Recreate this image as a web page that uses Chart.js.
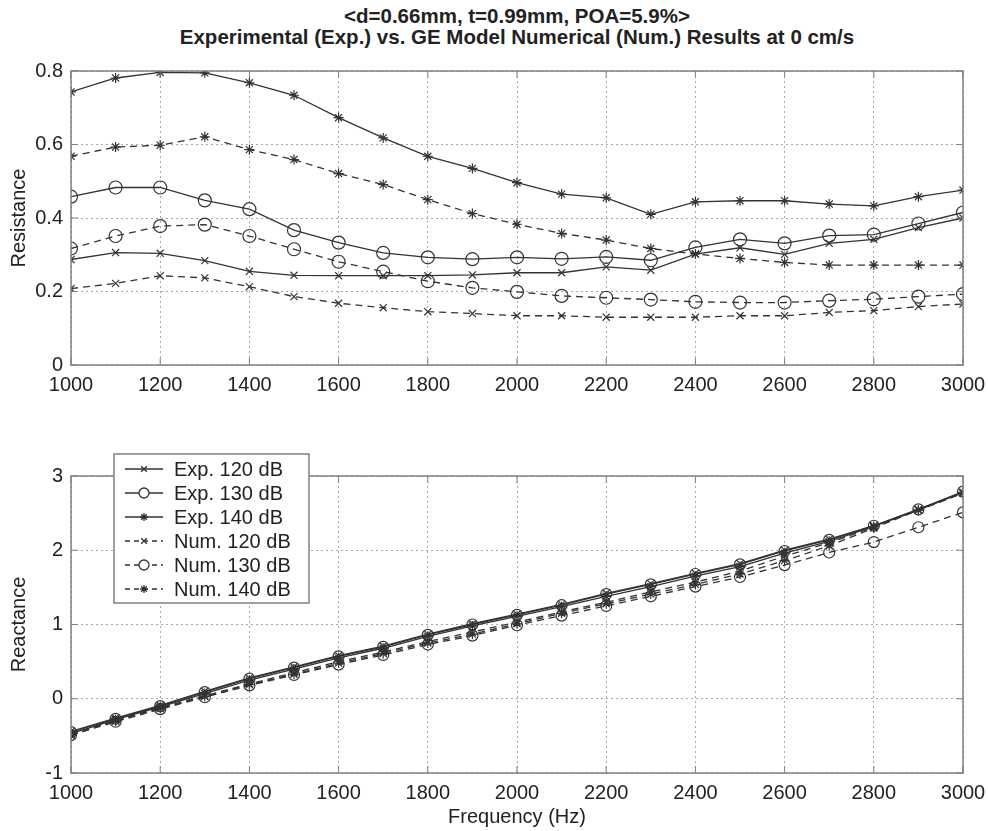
<!DOCTYPE html>
<html>
<head>
<meta charset="utf-8">
<script src="https://cdn.jsdelivr.net/npm/chart.js@4.4.1/dist/chart.umd.min.js"></script>
<style>
  body { margin: 0; background: #fff; }
  #wrap { position: relative; width: 988px; height: 831px; background: #fff; font-family: "Liberation Sans", Arial, sans-serif; }
  #wrap canvas { position: absolute; left: 0; }
  .title { position: absolute; left: 71px; width: 892px; text-align: center; font-weight: bold; font-size: 20.5px; color: #222; line-height: 22px; }
</style>
</head>
<body>
<div id="wrap">
  <div class="title" style="top:5px">&lt;d=0.66mm, t=0.99mm, POA=5.9%&gt;</div>
  <div class="title" style="top:26px">Experimental (Exp.) vs. GE Model Numerical (Num.) Results at 0 cm/s</div>
  <canvas id="resChart" width="988" height="400" style="top:0"></canvas>
  <canvas id="reaChart" width="988" height="411" style="top:420px"></canvas>
</div>
<script>
// Frequencies (Hz) shared by both panels.
const freqs = [1000, 1100, 1200, 1300, 1400, 1500, 1600, 1700, 1800, 1900, 2000,
               2100, 2200, 2300, 2400, 2500, 2600, 2700, 2800, 2900, 3000];

const seriesLabels = ["Exp. 120 dB", "Exp. 130 dB", "Exp. 140 dB",
                      "Num. 120 dB", "Num. 130 dB", "Num. 140 dB"];

// Resistance.
const resExp120 = [0.287, 0.306, 0.304, 0.284, 0.255, 0.244, 0.243, 0.243, 0.243, 0.245, 0.251,
                   0.251, 0.267, 0.258, 0.302, 0.319, 0.301, 0.331, 0.342, 0.374, 0.400];
const resExp130 = [0.458, 0.483, 0.483, 0.448, 0.424, 0.367, 0.333, 0.305, 0.293, 0.288, 0.293,
                   0.289, 0.294, 0.285, 0.320, 0.342, 0.331, 0.352, 0.355, 0.385, 0.415];
const resExp140 = [0.743, 0.781, 0.796, 0.795, 0.768, 0.734, 0.673, 0.618, 0.568, 0.535, 0.496,
                   0.465, 0.455, 0.410, 0.444, 0.447, 0.447, 0.438, 0.433, 0.458, 0.476];
const resNum120 = [0.208, 0.222, 0.243, 0.237, 0.213, 0.186, 0.168, 0.156, 0.145, 0.140, 0.134,
                   0.134, 0.130, 0.130, 0.130, 0.134, 0.134, 0.143, 0.148, 0.159, 0.166];
const resNum130 = [0.317, 0.351, 0.378, 0.382, 0.351, 0.315, 0.281, 0.254, 0.228, 0.210, 0.199,
                   0.188, 0.183, 0.178, 0.172, 0.170, 0.170, 0.175, 0.179, 0.186, 0.193];
const resNum140 = [0.568, 0.593, 0.598, 0.621, 0.586, 0.559, 0.521, 0.491, 0.450, 0.412, 0.383,
                   0.358, 0.340, 0.317, 0.302, 0.290, 0.279, 0.272, 0.272, 0.272, 0.272];

// Reactance.
const reaExp120 = [-0.44, -0.26, -0.09, 0.10, 0.28, 0.43, 0.58, 0.71, 0.87, 1.01, 1.14,
                   1.27, 1.42, 1.55, 1.69, 1.82, 2.00, 2.15, 2.33, 2.55, 2.78];
const reaExp130 = [-0.45, -0.27, -0.10, 0.09, 0.27, 0.42, 0.57, 0.70, 0.86, 1.00, 1.13,
                   1.26, 1.41, 1.54, 1.68, 1.81, 1.99, 2.14, 2.33, 2.55, 2.79];
const reaExp140 = [-0.47, -0.28, -0.11, 0.07, 0.25, 0.40, 0.55, 0.68, 0.84, 0.98, 1.11,
                   1.24, 1.38, 1.51, 1.65, 1.78, 1.96, 2.12, 2.32, 2.54, 2.78];
const reaNum120 = [-0.48, -0.29, -0.12, 0.04, 0.20, 0.35, 0.50, 0.63, 0.77, 0.90, 1.03,
                   1.17, 1.30, 1.44, 1.57, 1.72, 1.92, 2.10, 2.31, 2.54, 2.77];
const reaNum130 = [-0.49, -0.31, -0.14, 0.02, 0.18, 0.32, 0.46, 0.59, 0.73, 0.85, 0.99,
                   1.12, 1.25, 1.38, 1.51, 1.64, 1.80, 1.97, 2.11, 2.31, 2.51];
const reaNum140 = [-0.49, -0.30, -0.13, 0.03, 0.19, 0.33, 0.48, 0.61, 0.75, 0.87, 1.01,
                   1.15, 1.28, 1.41, 1.54, 1.68, 1.86, 2.06, 2.30, 2.54, 2.77];

const freqTicks = [1000, 1200, 1400, 1600, 1800, 2000, 2200, 2400, 2600, 2800, 3000];
const resTicks = [0, 0.2, 0.4, 0.6, 0.8];
const reaTicks = [-1, 0, 1, 2, 3];

const lineColor = '#333';
const axisColor = '#808080';
const gridColor = '#a8a8a8';
const fontName = '"Liberation Sans", Arial, sans-serif';
const markers = ['crossRot', 'circle', 'star', 'crossRot', 'circle', 'star'];

function toPoints(values) {
    return values.map((v, i) => ({ x: freqs[i], y: v }));
}

function buildDatasets(seriesList, circleRadius) {
    return seriesList.map((values, i) => ({
        label: seriesLabels[i],
        data: toPoints(values),
        borderColor: lineColor,
        borderWidth: 1.3,
        borderDash: i >= 3 ? [7, 5] : [],
        pointStyle: markers[i],
        pointRadius: markers[i] == 'circle' ? circleRadius : 5,
        pointBorderColor: lineColor,
        pointBorderWidth: 1.2,
        pointBackgroundColor: 'rgba(0,0,0,0)',
        tension: 0,
        fill: false
    }));
}

// MATLAB style box around the axes, with tick marks pointing inwards.
const boxPlugin = {
    id: 'box',
    afterDraw(chart) {
        const { ctx, chartArea: a, scales } = chart;
        ctx.save();
        ctx.strokeStyle = axisColor;
        ctx.lineWidth = 1.5;
        ctx.setLineDash([]);
        ctx.strokeRect(a.left, a.top, a.right - a.left, a.bottom - a.top);
        ctx.lineWidth = 1;
        ctx.beginPath();
        for (const t of scales.x.ticks) {
            const px = scales.x.getPixelForValue(t.value);
            ctx.moveTo(px, a.bottom); ctx.lineTo(px, a.bottom - 7);
            ctx.moveTo(px, a.top); ctx.lineTo(px, a.top + 7);
        }
        for (const t of scales.y.ticks) {
            const py = scales.y.getPixelForValue(t.value);
            ctx.moveTo(a.left, py); ctx.lineTo(a.left + 7, py);
            ctx.moveTo(a.right, py); ctx.lineTo(a.right - 7, py);
        }
        ctx.stroke();
        ctx.restore();
    }
};

// Legend drawn like the MATLAB one: line sample with its marker, then the text.
const legendPlugin = {
    id: 'matLegend',
    afterDraw(chart, args, opts) {
        if (!opts.show) return;
        const ctx = chart.ctx;
        const x0 = 114, y0 = 34, w = 195, h = 149, rowH = 24;
        ctx.save();
        ctx.fillStyle = '#fff';
        ctx.fillRect(x0, y0, w, h);
        ctx.strokeStyle = axisColor;
        ctx.lineWidth = 1.5;
        ctx.strokeRect(x0, y0, w, h);
        ctx.font = '20px ' + fontName;
        ctx.textBaseline = 'middle';
        chart.data.datasets.forEach((ds, i) => {
            const y = y0 + 15 + i * rowH;
            ctx.strokeStyle = ds.borderColor;
            ctx.lineWidth = ds.borderWidth;
            ctx.setLineDash(ds.borderDash.length ? [5, 4] : []);
            ctx.beginPath();
            ctx.moveTo(x0 + 11, y);
            ctx.lineTo(x0 + 49, y);
            ctx.stroke();
            ctx.setLineDash([]);
            ctx.fillStyle = '#fff';
            Chart.helpers.drawPoint(ctx, {
                pointStyle: ds.pointStyle,
                radius: ds.pointStyle == 'circle' ? 5 : 4,
                borderWidth: ds.pointBorderWidth,
                rotation: 0
            }, x0 + 30, y);
            ctx.fillStyle = '#222';
            ctx.fillText(ds.label, x0 + 60, y + 1);
        });
        ctx.restore();
    }
};

function xScale(height, withTitle) {
    return {
        type: 'linear',
        min: 1000,
        max: 3000,
        afterBuildTicks: (s) => { s.ticks = freqTicks.map(v => ({ value: v })); },
        afterFit: (s) => {
            s.height = height;
            // let the end labels hang over the layout padding
            s.paddingLeft = 0;
            s.paddingRight = 0;
        },
        ticks: {
            color: '#222', font: { family: fontName, size: 20 }, padding: 8, maxRotation: 0,
            callback: (v) => String(v)
        },
        grid: { color: gridColor, lineWidth: 1, drawTicks: false },
        border: { display: false, dash: [2, 3] },
        title: {
            display: withTitle,
            text: 'Frequency (Hz)',
            color: '#222',
            font: { family: fontName, size: 20 },
            padding: { top: 0, bottom: 2 }
        }
    };
}

function yScale(min, max, tickValues, title) {
    return {
        type: 'linear',
        min: min,
        max: max,
        afterBuildTicks: (s) => { s.ticks = tickValues.map(v => ({ value: v })); },
        afterFit: (s) => { s.width = 71; },
        ticks: {
            color: '#222', font: { family: fontName, size: 20 }, padding: 8,
            callback: (v) => String(v)
        },
        grid: { color: gridColor, lineWidth: 1, drawTicks: false },
        border: { display: false, dash: [2, 3] },
        title: {
            display: true,
            text: title,
            color: '#222',
            font: { family: fontName, size: 20 },
            padding: { top: 7, bottom: 0 }
        }
    };
}

function makeChart(canvasId, datasets, yOpts, xOpts, padding, showLegend) {
    return new Chart(document.getElementById(canvasId).getContext('2d'), {
        type: 'line',
        data: { datasets: datasets },
        options: {
            responsive: false,
            animation: false,
            devicePixelRatio: 1,
            layout: { padding: padding },
            scales: { x: xOpts, y: yOpts },
            plugins: {
                legend: { display: false },
                tooltip: { enabled: false },
                matLegend: { show: showLegend }
            }
        },
        plugins: [boxPlugin, legendPlugin]
    });
}

makeChart('resChart',
    buildDatasets([resExp120, resExp130, resExp140, resNum120, resNum130, resNum140], 6.5),
    yScale(0, 0.8, resTicks, 'Resistance'),
    xScale(35, false),
    { top: 71, right: 25, bottom: 0, left: 0 },
    false);

makeChart('reaChart',
    buildDatasets([reaExp120, reaExp130, reaExp140, reaNum120, reaNum130, reaNum140], 5.5),
    yScale(-1, 3, reaTicks, 'Reactance'),
    xScale(58, true),
    { top: 56, right: 25, bottom: 0, left: 0 },
    true);
</script>
</body>
</html>
